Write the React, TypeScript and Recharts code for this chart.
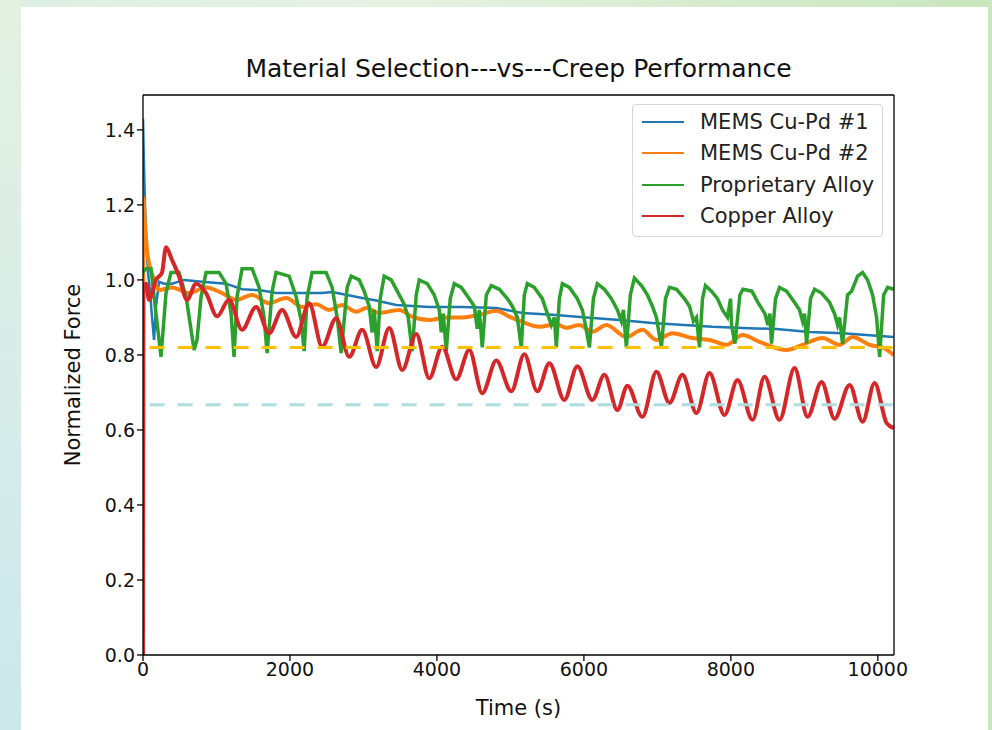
import { Line, LineChart, ReferenceLine, XAxis, YAxis } from "recharts"

// [time (s), normalized force]
const memsCuPd1: [number, number][] = [
  [0, 1.43], [14, 1.3], [27, 1.2], [41, 1.12], [68, 1.02], [95, 0.97], [123, 0.9], [150, 0.84],
  [177, 0.93], [218, 0.995], [286, 0.99], [395, 0.99], [558, 1.0], [804, 0.995], [1130, 0.99],
  [1348, 0.975], [1621, 0.972], [1812, 0.965], [2125, 0.965], [2438, 0.965], [2574, 0.968],
  [2983, 0.952], [3173, 0.945], [3446, 0.933], [3895, 0.928], [4345, 0.928], [4808, 0.925],
  [5162, 0.912], [5571, 0.907], [6034, 0.9], [6483, 0.893], [6932, 0.885], [7750, 0.875],
  [8158, 0.872], [8621, 0.869], [9071, 0.861], [9520, 0.858], [10215, 0.848],
]

const memsCuPd2: [number, number][] = [
  [0, 0], [5, 1.22], [27, 1.15], [54, 1.08], [82, 1.045], [150, 1.0], [218, 0.973], [395, 0.98],
  [627, 0.965], [858, 0.98], [1076, 0.965], [1267, 0.947], [1485, 0.96], [1716, 0.938],
  [1948, 0.952], [2166, 0.928], [2356, 0.935], [2533, 0.92], [2710, 0.933], [2901, 0.915],
  [3037, 0.925], [3215, 0.912], [3487, 0.92], [3664, 0.902], [3895, 0.893], [4127, 0.9],
  [4345, 0.9], [4576, 0.907], [4808, 0.918], [4985, 0.902], [5162, 0.888], [5394, 0.875],
  [5625, 0.882], [5761, 0.872], [5938, 0.88], [6115, 0.862], [6306, 0.88], [6578, 0.848],
  [6796, 0.867], [6987, 0.84], [7205, 0.858], [7477, 0.845], [7709, 0.84], [7940, 0.827],
  [8158, 0.853], [8390, 0.835], [8758, 0.813], [8976, 0.827], [9248, 0.845], [9480, 0.827],
  [9657, 0.848], [9888, 0.827], [10065, 0.82], [10215, 0.8],
]

const proprietaryAlloy: [number, number][] = [
  [0, 1.02], [41, 1.03], [109, 1.03], [177, 0.91], [245, 0.795], [313, 0.965], [381, 1.02],
  [490, 1.02], [586, 0.955], [654, 0.867], [695, 0.813], [735, 0.84], [790, 0.955], [858, 1.02],
  [1035, 1.02], [1130, 0.99], [1199, 0.91], [1239, 0.795], [1280, 0.955], [1348, 1.03],
  [1485, 1.03], [1580, 0.98], [1648, 0.9], [1689, 0.805], [1757, 0.97], [1811, 1.02],
  [1989, 1.01], [2084, 0.955], [2152, 0.893], [2193, 0.81], [2234, 0.955], [2302, 1.02],
  [2492, 1.02], [2574, 0.98], [2642, 0.9], [2697, 0.805],
  [2778, 0.98], [2833, 1.01], [2942, 1.0], [3010, 0.97], [3078, 0.93], [3119, 0.86], [3146, 0.92], [3173, 0.85], [3187, 0.81],
  [3228, 0.95], [3282, 1.01], [3378, 1.0], [3487, 0.96], [3555, 0.935], [3609, 0.9], [3664, 0.81],
  [3718, 0.96], [3759, 1.0], [3868, 0.99], [3963, 0.96], [4032, 0.92], [4059, 0.86], [4086, 0.91], [4127, 0.81],
  [4181, 0.95], [4236, 0.99], [4331, 0.98], [4440, 0.95], [4508, 0.93], [4549, 0.87], [4576, 0.92], [4617, 0.82],
  [4672, 0.96], [4740, 0.985], [4849, 0.975], [4958, 0.95], [5026, 0.93], [5094, 0.9], [5148, 0.82],
  [5189, 0.96], [5230, 0.99], [5325, 0.98], [5434, 0.95], [5503, 0.91], [5557, 0.88], [5598, 0.9], [5625, 0.82],
  [5666, 0.95], [5707, 0.99], [5802, 0.98], [5911, 0.95], [5979, 0.92], [6020, 0.88], [6075, 0.82],
  [6129, 0.95], [6183, 0.99], [6279, 0.975], [6374, 0.95], [6456, 0.92], [6510, 0.89], [6538, 0.92], [6578, 0.82],
  [6632, 0.96], [6687, 1.005], [6783, 0.985], [6864, 0.96], [6932, 0.93], [6987, 0.9], [7055, 0.82],
  [7110, 0.95], [7164, 0.98], [7260, 0.975], [7368, 0.95], [7437, 0.93], [7491, 0.89], [7532, 0.9], [7573, 0.82],
  [7614, 0.95], [7654, 0.985], [7736, 0.97], [7818, 0.95], [7886, 0.92], [7954, 0.9], [7995, 0.95], [8009, 0.88], [8055, 0.83],
  [8123, 0.96], [8164, 0.975], [8286, 0.97], [8368, 0.94], [8463, 0.91], [8504, 0.88], [8531, 0.91], [8553, 0.83],
  [8608, 0.95], [8662, 0.98], [8758, 0.97], [8867, 0.94], [8935, 0.92], [8976, 0.89], [9003, 0.91], [9030, 0.83],
  [9084, 0.95], [9139, 0.975], [9234, 0.965], [9343, 0.94], [9411, 0.91], [9452, 0.88], [9479, 0.9], [9520, 0.83],
  [9588, 0.96], [9643, 0.97], [9725, 1.01], [9793, 1.02], [9861, 1.0], [9929, 0.96], [9983, 0.9], [10024, 0.795],
  [10079, 0.96], [10133, 0.98], [10215, 0.975],
]

const copperAlloy: [number, number][] = [
  [0, 0], [5, 0.98], [41, 0.99], [82, 0.947], [177, 1.0], [259, 1.02], [313, 1.087], [395, 1.053],
  [490, 1.01], [599, 0.947], [722, 0.99], [858, 0.965], [1008, 0.903], [1171, 0.947], [1348, 0.867],
  [1539, 0.928], [1716, 0.858], [1893, 0.92], [2084, 0.848], [2261, 0.938], [2438, 0.822],
  [2629, 0.898], [2806, 0.795], [2983, 0.867], [3173, 0.768], [3351, 0.872], [3528, 0.76],
  [3718, 0.856], [3895, 0.738], [4072, 0.822], [4263, 0.735], [4440, 0.813], [4617, 0.698],
  [4808, 0.785], [5012, 0.703], [5189, 0.802], [5366, 0.703], [5530, 0.778], [5734, 0.68],
  [5911, 0.77], [6115, 0.68], [6279, 0.747], [6456, 0.653], [6592, 0.718], [6796, 0.635],
  [6987, 0.755], [7164, 0.672], [7341, 0.747], [7532, 0.645], [7709, 0.752], [7913, 0.64],
  [8090, 0.733], [8295, 0.627], [8458, 0.742], [8662, 0.627], [8867, 0.765], [9044, 0.635],
  [9234, 0.728], [9411, 0.63], [9616, 0.72], [9793, 0.622], [9956, 0.725], [10120, 0.618],
  [10215, 0.605],
]

const goldLevel: [number, number][] = [[90, 0.82], [10220, 0.82]]
const blueLevel: [number, number][] = [[90, 0.667], [10220, 0.667]]

const xMax = 10220
const yMax = 1.493
const xTicks = [0, 2000, 4000, 6000, 8000, 10000]
const yTicks = [0, 0.2, 0.4, 0.6, 0.8, 1.0, 1.2, 1.4]

const series = [
  { name: "MEMS Cu-Pd #1", data: memsCuPd1, color: "#1f77b4", width: 2.5, curve: "linear" },
  { name: "MEMS Cu-Pd #2", data: memsCuPd2, color: "#ff7f0e", width: 4, curve: "monotone" },
  { name: "Proprietary Alloy", data: proprietaryAlloy, color: "#2ca02c", width: 3.5, curve: "linear" },
  { name: "Copper Alloy", data: copperAlloy, color: "#d62728", width: 4, curve: "monotone" },
] as const

const toPoints = (pairs: readonly (readonly [number, number])[]) => pairs.map(([t, v]) => ({ t, v }))

const font = "'DejaVu Sans', sans-serif"

function LegendBox() {
  return (
    <div
      style={{
        position: "absolute",
        left: 632,
        top: 104,
        width: 251,
        height: 133,
        background: "rgba(255,255,255,0.85)",
        border: "1px solid #d6d6d6",
        borderRadius: 4,
        boxSizing: "border-box",
        padding: "1px 0 0 9px",
        fontFamily: font,
        fontSize: 21,
        color: "#222",
      }}
    >
      {series.map((s) => (
        <div key={s.name} style={{ display: "flex", alignItems: "center", height: 31.5 }}>
          <div style={{ width: 42, height: 2, background: s.color, marginRight: 16 }} />
          <span>{s.name}</span>
        </div>
      ))}
    </div>
  )
}

export default function App() {
  return (
    <div
      style={{
        position: "absolute",
        left: 0,
        top: 0,
        width: 992,
        height: 730,
        background: "linear-gradient(90deg, #dcefe4 0%, #e6f2e2 40%, #c9e6bd 100%)",
        overflow: "hidden",
      }}
    >
      <div
        style={{
          position: "absolute",
          left: 0,
          top: 0,
          width: 21,
          height: 730,
          background: "linear-gradient(180deg, #e3f1e1 0%, #d6ecea 60%, #cce7ea 100%)",
        }}
      />
      <div style={{ position: "absolute", left: 21, top: 7, width: 967, height: 723, background: "#fff" }} />

      <div
        style={{
          position: "absolute",
          left: 143,
          width: 751,
          top: 54,
          textAlign: "center",
          fontFamily: font,
          fontSize: 25,
          color: "#111",
        }}
      >
        Material Selection---vs---Creep Performance
      </div>
      <div
        style={{
          position: "absolute",
          left: 143,
          width: 751,
          top: 696,
          textAlign: "center",
          fontFamily: font,
          fontSize: 21,
          color: "#111",
        }}
      >
        Time (s)
      </div>
      <div
        style={{
          position: "absolute",
          left: 73,
          top: 375,
          transform: "translate(-50%, -50%) rotate(-90deg)",
          whiteSpace: "nowrap",
          fontFamily: font,
          fontSize: 21,
          color: "#111",
        }}
      >
        Normalized Force
      </div>

      <div style={{ position: "absolute", left: 0, top: 0 }}>
        <LineChart width={992} height={730} margin={{ top: 95, right: 98, bottom: 45, left: 83 }}>
          <XAxis
            dataKey="t"
            type="number"
            domain={[0, xMax]}
            ticks={xTicks}
            allowDataOverflow
            height={30}
            stroke="#000"
            strokeWidth={1.3}
            tickSize={6}
            tick={{ fill: "#111", fontSize: 19, fontFamily: font }}
            tickLine={{ stroke: "#000" }}
          />
          <YAxis
            type="number"
            domain={[0, yMax]}
            ticks={yTicks}
            allowDataOverflow
            width={60}
            stroke="#000"
            strokeWidth={1.3}
            tickSize={6}
            tickFormatter={(v: number) => v.toFixed(1)}
            tick={{ fill: "#111", fontSize: 19, fontFamily: font }}
            tickLine={{ stroke: "#000" }}
          />
          {series.map((s) => (
            <Line
              key={s.name}
              data={toPoints(s.data)}
              dataKey="v"
              name={s.name}
              type={s.curve}
              stroke={s.color}
              strokeWidth={s.width}
              dot={false}
              isAnimationActive={false}
            />
          ))}
          <Line
            data={toPoints(goldLevel)}
            dataKey="v"
            stroke="#ffc000"
            strokeWidth={3}
            strokeDasharray="15 13"
            dot={false}
            isAnimationActive={false}
          />
          <Line
            data={toPoints(blueLevel)}
            dataKey="v"
            stroke="#aedde0"
            strokeWidth={3}
            strokeDasharray="15 13"
            dot={false}
            isAnimationActive={false}
          />
          <ReferenceLine y={yMax} stroke="#000" strokeWidth={1.3} />
          <ReferenceLine x={xMax} stroke="#000" strokeWidth={1.3} />
        </LineChart>
      </div>
      <LegendBox />
    </div>
  )
}
